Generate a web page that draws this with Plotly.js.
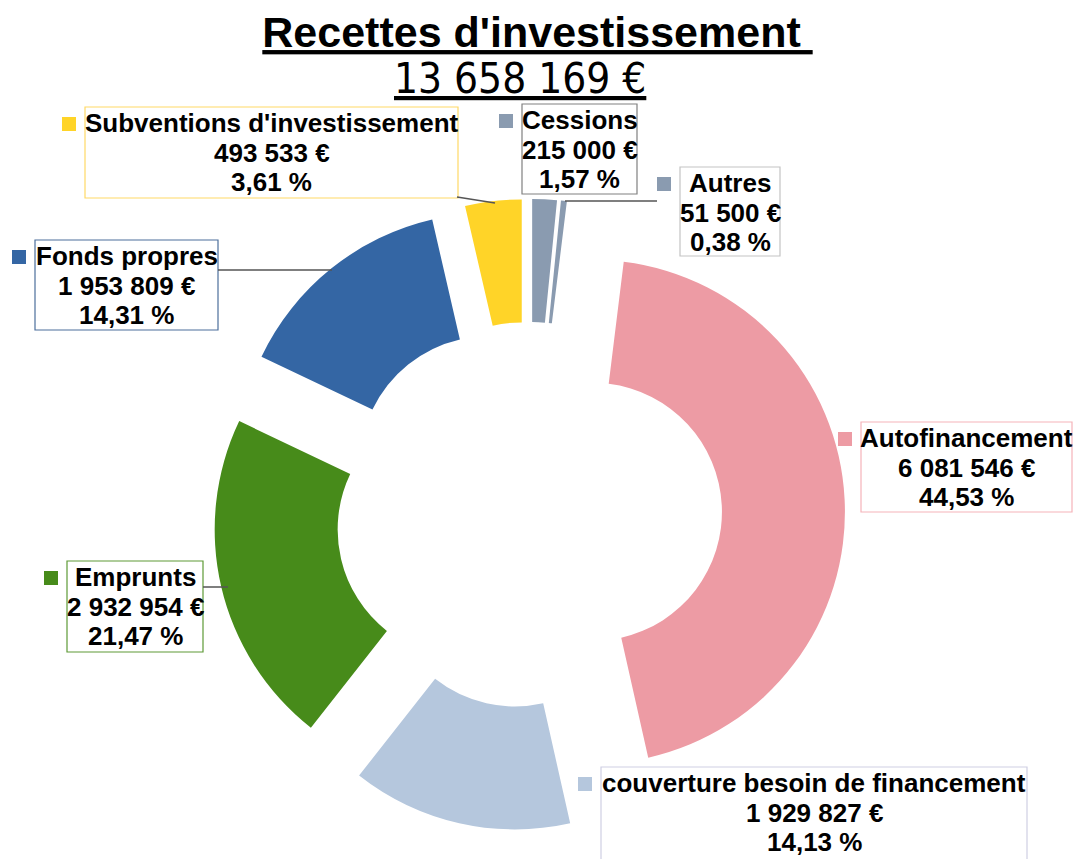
<!DOCTYPE html>
<html><head><meta charset="utf-8">
<script src="https://cdn.plot.ly/plotly-3.0.1.min.js"></script>
<style>html,body{margin:0;padding:0;background:#fff}</style>
</head><body>
<div id="chart" style="width:1075px;height:859px"></div>
<script>
// ---- data ----
const categories = ["Cessions", "Autres", "Autofinancement", "couverture besoin de financement", "Emprunts", "Fonds propres", "Subventions d'investissement"];
const amounts = [215000, 51500, 6081546, 1929827, 2932954, 1953809, 493533];
const chartTitle = "Recettes d'investissement";
const currency = "€";

// ---- styles ----
const sliceColors = ["#8a9bb0", "#8a9bb0", "#ed9ba4", "#b5c7dd", "#478b1a", "#3466a4", "#ffd428"];
const borderColors = ["#808080", "#c4c4c4", "#f5b3b9", "#cfcfe3", "#5e9a36", "#4c6f9c", "#ffd966"];
const W = 1075, H = 859;
// label box placement in px: [left, top, right, bottom]
const boxes = [[522,104,637,194],[680,167,780,256],[861,422,1072,512],[601,767,1027,864],[67,561,203,652],[35,240,218,330],[85,107,458,198]];
const leaders = [null, [565,201,657,201], null, null, [203,587,228,587], [218,270,332,270], [457,197,495,203]];
const lineOffsets = [16, 46, 75];

const total = amounts.reduce((a, b) => a + b, 0);
const fmt = n => String(n).replace(/\B(?=(\d{3})+(?!\d))/g, " ");
const pct = v => (v / total * 100).toFixed(2).replace(".", ",") + " %";
const px = x => x / W, py = y => 1 - y / H;

const annotations = [];
const shapes = [];
categories.forEach((c, i) => {
  const b = boxes[i];
  const lines = [c, fmt(amounts[i]) + " " + currency, pct(amounts[i])];
  lines.forEach((t, k) => {
    annotations.push({xref: "paper", yref: "paper", x: px((b[0] + b[2]) / 2), y: py(b[1] + lineOffsets[k]),
      xanchor: "center", yanchor: "middle", showarrow: false, text: "<b>" + t + "</b>",
      font: {family: "Liberation Sans, Arial, sans-serif", size: 26, color: "#000"}});
  });
  shapes.push({type: "rect", xref: "paper", yref: "paper", x0: px(b[0]), x1: px(b[2]), y0: py(b[1]), y1: py(b[3]),
    line: {color: borderColors[i], width: 1.2}, fillcolor: "rgba(0,0,0,0)"});
  shapes.push({type: "rect", xref: "paper", yref: "paper", x0: px(b[0] - 23), x1: px(b[0] - 9), y0: py(b[1] + 10), y1: py(b[1] + 24),
    line: {width: 0}, fillcolor: sliceColors[i]});
  const L = leaders[i];
  if (L) shapes.push({type: "line", xref: "paper", yref: "paper", x0: px(L[0]), y0: py(L[1]), x1: px(L[2]), y1: py(L[3]),
    line: {color: "#555", width: 1.5}});
});

annotations.push({xref: "paper", yref: "paper", x: px(520), y: py(79), xanchor: "center", yanchor: "middle", showarrow: false,
  text: "<u>" + fmt(total) + " " + currency + "</u>",
  font: {family: "Liberation Sans Narrow, DejaVu Sans Condensed, sans-serif", size: 42, color: "#000"}});

const trace = {
  type: "pie", labels: categories, values: amounts, sort: false, direction: "clockwise", rotation: 0,
  hole: 0.512, pull: 0.254, textinfo: "none", hoverinfo: "label+value+percent",
  marker: {colors: sliceColors, line: {width: 0}},
  domain: {x: [px(213), px(845)], y: [py(831), py(199)]}, showlegend: false
};

const layout = {
  width: W, height: H, margin: {l: 0, r: 0, t: 0, b: 0},
  paper_bgcolor: "#fff", plot_bgcolor: "#fff",
  title: {text: "<b><u>" + chartTitle + "\u00a0</u></b>", font: {family: "Liberation Sans, Arial, sans-serif", size: 43, color: "#000"},
    x: 0.5, xanchor: "center", xref: "container", y: 1 - 32 / H, yanchor: "middle", yref: "container"},
  annotations: annotations, shapes: shapes, showlegend: false
};

Plotly.newPlot("chart", [trace], layout, {displayModeBar: false, staticPlot: true});
</script>
</body></html>
